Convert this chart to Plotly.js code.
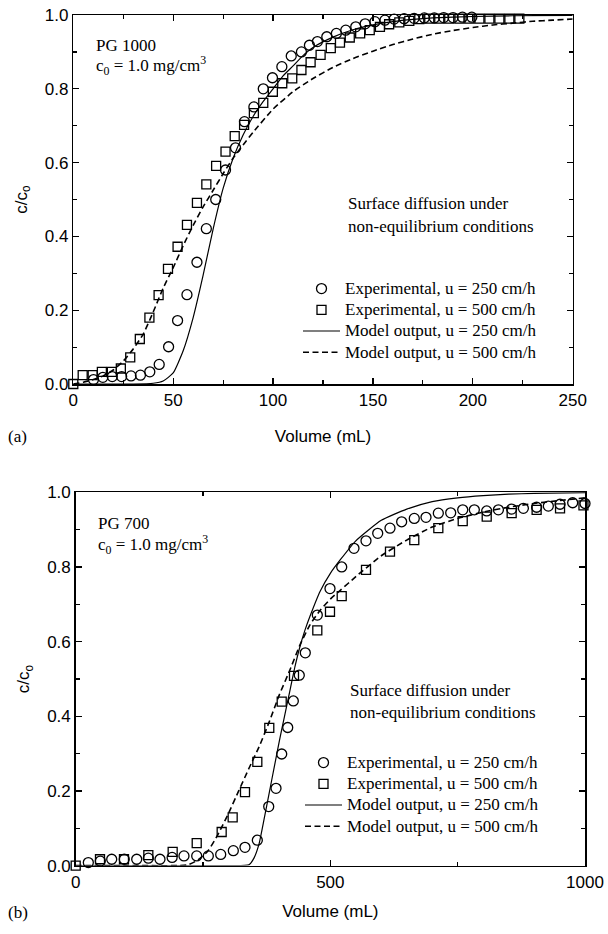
<!DOCTYPE html>
<html><head><meta charset="utf-8">
<script src="https://cdn.plot.ly/plotly-3.0.1.min.js"></script>
<style>body{margin:0;padding:0;background:#fff}#chart{width:608px;height:934px}</style>
</head><body><div id="chart"></div>
<script>
// ---------- Panel (a): PG 1000 ----------
const aExp250X = [10.1, 14.8, 19.5, 24.2, 28.9, 33.6, 38.3, 43.0, 47.7, 52.2, 56.9, 61.9, 66.6, 71.3, 76.2, 81.2, 85.7, 90.4, 95.1, 99.7, 104.4, 109.1, 114.2, 118.2, 122.2, 126.9, 131.7, 136.4, 141.4, 146.1, 151.0, 156.0, 160.6, 165.6, 170.6, 175.7, 180.7, 185.4, 190.1, 194.8, 199.5];
const aExp250Y = [0.012, 0.018, 0.02, 0.02, 0.022, 0.024, 0.033, 0.053, 0.101, 0.172, 0.242, 0.33, 0.421, 0.5, 0.58, 0.64, 0.711, 0.751, 0.8, 0.83, 0.86, 0.889, 0.9, 0.918, 0.928, 0.941, 0.95, 0.959, 0.968, 0.976, 0.982, 0.986, 0.989, 0.99, 0.991, 0.992, 0.992, 0.993, 0.993, 0.994, 0.994];
const aExp500X = [0, 4.7, 9.7, 14.3, 19.3, 23.8, 28.5, 33.3, 38.1, 42.7, 47.4, 52.2, 56.9, 61.9, 66.6, 71.5, 76.2, 80.8, 85.5, 90.4, 95.1, 99.9, 104.6, 109.6, 114.2, 118.8, 123.8, 128.9, 133.5, 138.4, 143.6, 148.4, 153.5, 158.1, 163.2, 168.2, 173.2, 178.2, 183.2, 188.2, 193.3, 198.3, 203.3, 208.3, 213.3, 218.3, 223.3];
const aExp500Y = [0, 0.024, 0.024, 0.033, 0.033, 0.042, 0.072, 0.122, 0.18, 0.241, 0.312, 0.372, 0.431, 0.491, 0.541, 0.591, 0.63, 0.672, 0.702, 0.734, 0.762, 0.792, 0.815, 0.828, 0.851, 0.872, 0.892, 0.91, 0.925, 0.939, 0.95, 0.959, 0.968, 0.975, 0.98, 0.984, 0.989, 0.99, 0.99, 0.99, 0.99, 0.99, 0.99, 0.99, 0.99, 0.99, 0.99];
const aMod250X = [0, 10, 20, 30, 40, 45, 50, 55, 60, 65, 70, 75, 80, 85, 90, 95, 100, 105, 110, 115, 120, 130, 140, 150, 160, 170, 180, 200, 220, 250];
const aMod250Y = [0, 0, 0, 0, 0.002, 0.008, 0.03, 0.09, 0.18, 0.295, 0.42, 0.53, 0.612, 0.675, 0.725, 0.765, 0.8, 0.835, 0.862, 0.89, 0.912, 0.94, 0.96, 0.973, 0.982, 0.988, 0.992, 0.996, 0.998, 0.999];
const aMod500X = [0, 5, 10, 15, 20, 25, 30, 35, 40, 45, 50, 55, 60, 65, 70, 75, 80, 85, 90, 100, 110, 120, 130, 140, 150, 160, 170, 180, 190, 200, 210, 220, 230, 240, 250];
const aMod500Y = [0, 0.005, 0.012, 0.022, 0.038, 0.062, 0.095, 0.135, 0.195, 0.26, 0.315, 0.375, 0.43, 0.48, 0.525, 0.57, 0.612, 0.648, 0.682, 0.745, 0.792, 0.828, 0.858, 0.882, 0.902, 0.92, 0.935, 0.948, 0.958, 0.966, 0.973, 0.978, 0.983, 0.986, 0.989];

// ---------- Panel (b): PG 700 ----------
const bExp250X = [24.8, 48.3, 70.7, 95.3, 119.8, 142.6, 165.5, 189.3, 212.6, 237.6, 260.4, 284.7, 309.5, 332.4, 356.6, 379, 393.3, 404.5, 416.3, 427.3, 439, 450.8, 474.4, 499.3, 522.3, 546.4, 570, 593, 617.1, 640, 664.8, 687.8, 712, 736.3, 759.9, 782.7, 807, 830, 856, 879, 905, 928, 951, 975.8, 1000];
const bExp250Y = [0.008, 0.012, 0.017, 0.017, 0.017, 0.02, 0.017, 0.022, 0.026, 0.026, 0.026, 0.03, 0.04, 0.049, 0.068, 0.158, 0.207, 0.299, 0.37, 0.441, 0.51, 0.57, 0.671, 0.742, 0.8, 0.85, 0.87, 0.89, 0.904, 0.921, 0.93, 0.933, 0.944, 0.945, 0.953, 0.953, 0.95, 0.953, 0.955, 0.957, 0.96, 0.963, 0.968, 0.972, 0.97];
const bExp500X = [0, 47.7, 94.8, 142.6, 190.4, 237.6, 286.6, 308.2, 332.4, 356.6, 380.1, 404.5, 428.6, 474.4, 499.3, 522.3, 570, 617.1, 664.8, 712, 759.9, 807, 856, 905, 951, 997];
const bExp500Y = [0, 0.017, 0.017, 0.028, 0.037, 0.06, 0.09, 0.129, 0.197, 0.278, 0.369, 0.439, 0.508, 0.63, 0.68, 0.722, 0.792, 0.841, 0.872, 0.904, 0.923, 0.935, 0.944, 0.953, 0.957, 0.965];
const bMod250X = [0, 100, 200, 300, 340, 350, 360, 370, 380, 390, 400, 410, 420, 430, 440, 450, 460, 480, 500, 520, 550, 600, 650, 700, 750, 800, 850, 900, 1000];
const bMod250Y = [0, 0, 0, 0, 0.002, 0.02, 0.058, 0.125, 0.195, 0.265, 0.335, 0.4, 0.465, 0.53, 0.585, 0.63, 0.668, 0.735, 0.783, 0.82, 0.87, 0.925, 0.955, 0.975, 0.985, 0.991, 0.995, 0.997, 0.999];
const bMod500X = [0, 100, 200, 220, 240, 260, 280, 300, 320, 340, 360, 380, 400, 420, 440, 460, 480, 500, 520, 550, 600, 650, 700, 750, 800, 850, 900, 950, 1000];
const bMod500Y = [0, 0, 0, 0.002, 0.015, 0.04, 0.085, 0.14, 0.2, 0.26, 0.318, 0.385, 0.458, 0.522, 0.59, 0.645, 0.684, 0.714, 0.738, 0.774, 0.83, 0.872, 0.907, 0.93, 0.947, 0.96, 0.97, 0.978, 0.985];

const seriesNames = ['Experimental, u = 250 cm/h', 'Experimental, u = 500 cm/h', 'Model output, u = 250 cm/h', 'Model output, u = 500 cm/h'];
const xTitle = 'Volume (mL)';
const yTitle = 'c/c<sub>o</sub>';

// ---------- Styling / layout ----------
const W = 608, H = 934;
const px = v => v / W, py = v => 1 - v / H;
const SANS = 'Liberation Sans, Arial, sans-serif';
const SERIF = 'Liberation Serif, Times New Roman, serif';
const DASH = '6px,3.5px';

function legName(s) { return '<span style="font-size:17px">' + s + '</span>'; }

function panel(xa, ya, leg, d) {
  return [
    {x: d[0], y: d[1], xaxis: xa, yaxis: ya, legend: leg, name: legName(seriesNames[0]), mode: 'markers', type: 'scatter', cliponaxis: false,
     marker: {symbol: 'circle-open', size: 10, color: '#000', line: {width: 1.3, color: '#000'}}},
    {x: d[2], y: d[3], xaxis: xa, yaxis: ya, legend: leg, name: legName(seriesNames[1]), mode: 'markers', type: 'scatter', cliponaxis: false,
     marker: {symbol: 'square-open', size: 9, color: '#000', line: {width: 1.3, color: '#000'}}},
    {x: d[4], y: d[5], xaxis: xa, yaxis: ya, legend: leg, name: legName(seriesNames[2]), mode: 'lines', type: 'scatter',
     line: {color: '#000', width: 1.2, shape: 'spline', smoothing: 0.5}},
    {x: d[6], y: d[7], xaxis: xa, yaxis: ya, legend: leg, name: legName(seriesNames[3]), mode: 'lines', type: 'scatter',
     line: {color: '#000', width: 1.6, dash: DASH, shape: 'spline', smoothing: 0.5}}
  ];
}

const data = [
  ...panel('x', 'y', 'legend', [aExp250X, aExp250Y, aExp500X, aExp500Y, aMod250X, aMod250Y, aMod500X, aMod500Y]),
  ...panel('x2', 'y2', 'legend2', [bExp250X, bExp250Y, bExp500X, bExp500Y, bMod250X, bMod250Y, bMod500X, bMod500Y])
];

function xAxis(domain, range, dtick, minor, anchor, standoff) {
  return {domain, range, dtick, anchor, showgrid: false, zeroline: false, showline: true, linewidth: 1.5, linecolor: '#000',
    mirror: 'ticks', ticks: 'inside', ticklen: 6, tickwidth: 1.3, tickcolor: '#000',
    minor: {dtick: minor, ticks: 'inside', ticklen: 4, tickwidth: 1.2, tickcolor: '#000', showgrid: false},
    tickfont: {family: SANS, size: 17, color: '#000'},
    title: {text: xTitle, font: {family: SANS, size: 17, color: '#000'}, standoff}};
}
function yAxis(domain, anchor) {
  return {domain, range: [0, 1], dtick: 0.2, tickformat: '.1f', anchor, showgrid: false, zeroline: false, showline: true, linewidth: 1.5, linecolor: '#000',
    mirror: 'ticks', ticks: 'inside', ticklen: 6, tickwidth: 1.3, tickcolor: '#000',
    minor: {dtick: 0.1, ticks: 'inside', ticklen: 4, tickwidth: 1.2, tickcolor: '#000', showgrid: false},
    tickfont: {family: SANS, size: 17, color: '#000'},
    title: {text: yTitle, font: {family: SANS, size: 17, color: '#000'}, standoff: 13}};
}

const annFont = {family: SERIF, size: 17, color: '#000'};
const legFont = {family: SERIF, size: 14, color: '#000'};
function annot(text, x, y) {
  return {text, x: px(x), y: py(y), xref: 'paper', yref: 'paper', xanchor: 'left', yanchor: 'middle', showarrow: false, font: annFont};
}

const layout = {
  width: W, height: H, margin: {l: 0, r: 0, t: 0, b: 0}, paper_bgcolor: '#fff', plot_bgcolor: 'rgba(0,0,0,0)',
  showlegend: true,
  xaxis: xAxis([px(73.3), px(572.7)], [0, 250], 50, 25, 'y', 21),
  yaxis: yAxis([py(384), py(15)], 'x'),
  xaxis2: xAxis([px(75.7), px(585)], [0, 1000], 500, 250, 'y2', 14),
  yaxis2: yAxis([py(865.6), py(492.3)], 'x2'),
  legend: {x: px(298), y: py(273), xanchor: 'left', yanchor: 'top', bgcolor: 'rgba(0,0,0,0)', font: legFont, itemwidth: 37, tracegroupgap: 0},
  legend2: {x: px(300), y: py(747), xanchor: 'left', yanchor: 'top', bgcolor: 'rgba(0,0,0,0)', font: legFont, itemwidth: 37, tracegroupgap: 0},
  annotations: [
    annot('PG 1000', 94, 45),
    annot('c<sub>0</sub> = 1.0 mg/cm<sup>3</sup>', 94, 66),
    annot('Surface diffusion under', 346, 204),
    annot('non-equilibrium conditions', 346, 226),
    annot('(a)', 6, 436),
    annot('PG 700', 96, 523),
    annot('c<sub>0</sub> = 1.0 mg/cm<sup>3</sup>', 96, 544),
    annot('Surface diffusion under', 348, 690),
    annot('non-equilibrium conditions', 348, 712),
    annot('(b)', 6, 912)
  ]
};

Plotly.newPlot('chart', data, layout, {displayModeBar: false, staticPlot: true});
</script>
</body></html>
